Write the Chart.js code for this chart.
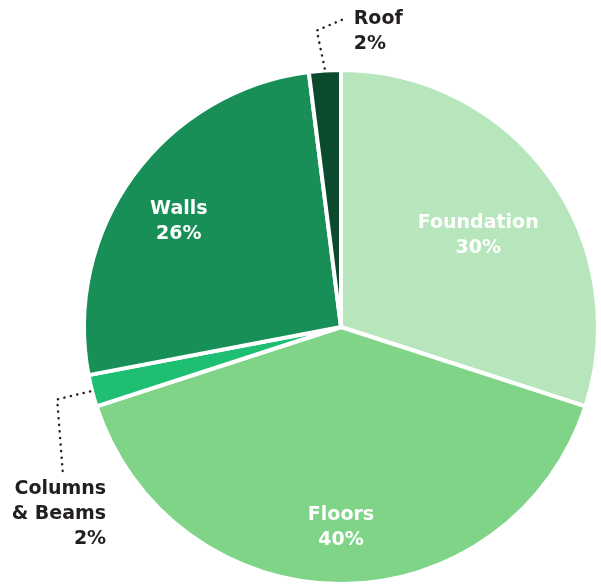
<!DOCTYPE html>
<html lang="en">
<head>
    <meta charset="UTF-8">
    <title>Material share</title>
    <script src="https://cdn.jsdelivr.net/npm/chart.js"></script>
    <style>
        html, body { margin: 0; padding: 0; background: #fff; }
        #wrap { width: 601px; height: 586px; position: relative; }
    </style>
</head>
<body>
    <div id="wrap"><canvas id="pieChart"></canvas></div>

    <script>
        // data
        const labels = ['Foundation', 'Floors', 'Columns & Beams', 'Walls', 'Roof'];
        const labelLines = [['Foundation'], ['Floors'], ['Columns', '& Beams'], ['Walls'], ['Roof']];
        const shares = [30, 40, 2, 26, 2];
        const colours = ['#b7e6bc', '#7fd488', '#1ebf73', '#178f56', '#0b4a2c'];

        const FONT = 'bold 19px "DejaVu Sans", sans-serif';

        // inside labels: radius factor; outside labels: leader line + text placement
        const labelStyle = [
            { inside: true, r: 0.66, dy: 8 },
            { inside: true, r: 0.77, dy: 3 },
            { inside: false, elbow: [-33, 8], end: [-27, 86], text: [43, 12], align: 'right' },
            { inside: true, r: 0.78, dy: 12 },
            { inside: false, elbow: [-8, -38], end: [18, -49], text: [11, 0], align: 'left' }
        ];

        const pieLabels = {
            id: 'pieLabels',
            afterDatasetsDraw(chart) {
                const ctx = chart.ctx;
                const arcs = chart.getDatasetMeta(0).data;
                ctx.save();
                ctx.font = FONT;
                ctx.textBaseline = 'middle';
                arcs.forEach((arc, i) => {
                    const st = labelStyle[i];
                    const mid = (arc.startAngle + arc.endAngle) / 2;
                    const lines = labelLines[i].concat([shares[i] + '%']);
                    const lh = 25;
                    if (st.inside) {
                        const x = arc.x + Math.cos(mid) * arc.outerRadius * st.r;
                        const y = arc.y + Math.sin(mid) * arc.outerRadius * st.r + st.dy;
                        ctx.fillStyle = '#ffffff';
                        ctx.textAlign = 'center';
                        lines.forEach((t, k) => {
                            ctx.fillText(t, x, y + (k - (lines.length - 1) / 2) * lh);
                        });
                    } else {
                        const sx = arc.x + Math.cos(mid) * (arc.outerRadius + 2);
                        const sy = arc.y + Math.sin(mid) * (arc.outerRadius + 2);
                        const ex = sx + st.end[0], ey = sy + st.end[1];
                        ctx.strokeStyle = '#231f20';
                        ctx.lineWidth = 2.5;
                        ctx.lineCap = 'round';
                        ctx.setLineDash([0.1, 6.5]);
                        ctx.beginPath();
                        ctx.moveTo(sx, sy);
                        ctx.lineTo(sx + st.elbow[0], sy + st.elbow[1]);
                        ctx.lineTo(ex, ey);
                        ctx.stroke();
                        ctx.setLineDash([]);
                        ctx.fillStyle = '#231f20';
                        ctx.textAlign = st.align;
                        const tx = ex + st.text[0], ty = ey + st.text[1];
                        lines.forEach((t, k) => ctx.fillText(t, tx, ty + k * lh));
                    }
                });
                ctx.restore();
            }
        };

        new Chart(document.getElementById('pieChart'), {
            type: 'pie',
            data: {
                labels: labels,
                datasets: [{
                    data: shares,
                    backgroundColor: colours,
                    borderColor: '#ffffff',
                    borderWidth: 4,
                    hoverOffset: 0
                }]
            },
            options: {
                responsive: true,
                maintainAspectRatio: false,
                animation: false,
                layout: { padding: { left: 81, right: 0, top: 68, bottom: 0 } },
                plugins: {
                    legend: { display: false },
                    tooltip: { enabled: false }
                }
            },
            plugins: [pieLabels]
        });
    </script>
</body>
</html>
